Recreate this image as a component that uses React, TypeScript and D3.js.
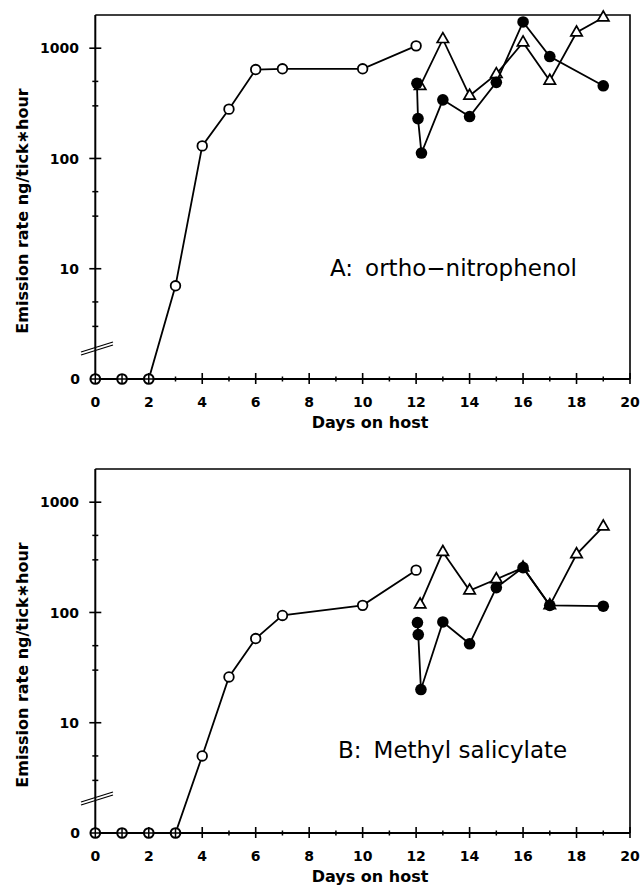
import React from 'react';
import * as d3 from 'd3';

// ---------- data ----------
const panelLabels = ['A:', 'B:'];
const panelNames = ['ortho\u2212nitrophenol', 'Methyl salicylate'];

// Panel A
const daysOpenA = [0, 1, 2, 3, 4, 5, 6, 7, 10, 12];
const valuesOpenA = [0, 0, 0, 7, 130, 280, 640, 650, 650, 1050];
const daysFilledA = [12.03, 12.07, 12.2, 13, 14, 15, 16, 17, 19];
const valuesFilledA = [480, 230, 112, 340, 240, 490, 1730, 840, 456];
const daysTriA = [12.15, 13, 14, 15, 16, 17, 18, 19];
const valuesTriA = [453, 1206, 370, 581, 1126, 506, 1387, 1897];

// Panel B
const daysOpenB = [0, 1, 2, 3, 4, 5, 6, 7, 10, 12];
const valuesOpenB = [0, 0, 0, 0, 5, 26, 58, 94, 116, 242];
const daysFilledB = [12.05, 12.08, 12.18, 13, 14, 15, 16, 17, 19];
const valuesFilledB = [81, 63, 20, 82, 52, 168, 255, 116, 114];
const daysTriB = [12.15, 13, 14, 15, 16, 17, 18, 19];
const valuesTriB = [118, 353, 158, 200, 255, 116, 337, 601];

const yMajorTicks = [1000, 100, 10];
const yMajorLabels = ['1000', '100', '10'];
const yMinorTicks = [500, 300, 50, 30, 5, 3];
const xMajorTicks = [0, 2, 4, 6, 8, 10, 12, 14, 16, 18, 20];
const xMinorTicks = [1, 3, 5, 7, 9, 11, 13, 15, 17, 19];
const xTitle = 'Days on host';
const yTitle = 'Emission rate ng/tick\u2217hour';

const FONT = '"DejaVu Sans", Verdana, sans-serif';

type PanelProps = {
  top: number;
  bottom: number;
  label: string;
  name: string;
  labelX: number;
  labelY: number;
  openD: number[]; openV: number[];
  filledD: number[]; filledV: number[];
  triD: number[]; triV: number[];
  breakOffset: number;
};

function Panel(p: PanelProps) {
  const x = d3.scaleLinear().domain([0, 20]).range([95.3, 630]);
  const y = d3.scaleLog().domain([1, 2000]).range([p.bottom, p.top]);
  const yv = (v: number) => y(Math.max(v, 1));
  const line = d3.line<[number, number]>().x(d => x(d[0])).y(d => yv(d[1]));
  const zip = (a: number[], b: number[]) => a.map((d, i) => [d, b[i]] as [number, number]);
  const openPts = zip(p.openD, p.openV);
  const filledPts = zip(p.filledD, p.filledV);
  const triPts = zip(p.triD, p.triV);
  const tri = d3.symbol().type(d3.symbolTriangle).size(56)();
  const x0 = x(0), x1 = x(20), yb = y(1), yt = y(2000);
  const by = yb - p.breakOffset;
  return (
    <g>
      {/* frame */}
      <path d={`M${x0},${yt} L${x1},${yt} L${x1},${yb}`} fill="none" stroke="#000" strokeWidth={1.6} />
      <line x1={x0} x2={x0} y1={yt} y2={yb} stroke="#000" strokeWidth={2} />
      <line x1={x0} x2={x1} y1={yb} y2={yb} stroke="#000" strokeWidth={2} />
      {/* y ticks */}
      {yMajorTicks.map((t, i) => (
        <g key={'ym' + t}>
          <line x1={x0 - 6} x2={x0 + 6} y1={y(t)} y2={y(t)} stroke="#000" strokeWidth={1.6} />
          <text x={79} y={y(t)} dy="0.36em" textAnchor="end" fontFamily={FONT} fontWeight="bold" fontSize={14}>{yMajorLabels[i]}</text>
        </g>
      ))}
      <text x={80} y={yb} dy="0.36em" textAnchor="end" fontFamily={FONT} fontWeight="bold" fontSize={14}>0</text>
      {yMinorTicks.map(t => (
        <line key={'yn' + t} x1={x0 - 3} x2={x0 + 3} y1={y(t)} y2={y(t)} stroke="#000" strokeWidth={1.5} />
      ))}
      {/* axis break */}
      <line x1={81} y1={by + 5} x2={113} y2={by - 5} stroke="#000" strokeWidth={1.3} />
      <line x1={81} y1={by + 8} x2={113} y2={by - 2} stroke="#000" strokeWidth={1.3} />
      {/* x ticks */}
      {xMajorTicks.map(t => (
        <g key={'xm' + t}>
          <line x1={x(t)} x2={x(t)} y1={yb - 6} y2={yb + 5} stroke="#000" strokeWidth={1.6} />
          <text x={x(t)} y={yb + 28} textAnchor="middle" fontFamily={FONT} fontWeight="bold" fontSize={14}>{t}</text>
        </g>
      ))}
      {xMinorTicks.map(t => (
        <line key={'xn' + t} x1={x(t)} x2={x(t)} y1={yb - 2.5} y2={yb + 2.5} stroke="#000" strokeWidth={1.5} />
      ))}
      <text x={370} y={yb + 49} textAnchor="middle" fontFamily={FONT} fontWeight="bold" fontSize={16}>{xTitle}</text>
      <text transform={`translate(22,${yt + 196}) rotate(-90)`} textAnchor="middle" dominantBaseline="central" fontFamily={FONT} fontWeight="bold" fontSize={16}>{yTitle}</text>
      {/* panel label */}
      <text x={p.labelX} y={p.labelY} fontFamily={FONT} fontSize={23}>{p.label}<tspan dx={12}>{p.name}</tspan></text>
      {/* open series */}
      <path d={line(openPts) || ''} fill="none" stroke="#000" strokeWidth={1.8} />
      {openPts.map((d, i) => d[1] <= 0 ? (
        <g key={'o' + i}>
          <circle cx={x(d[0])} cy={yv(d[1])} r={4.8} fill="#fff" stroke="#000" strokeWidth={2.1} />
          <line x1={x(d[0]) - 4.8} x2={x(d[0]) + 4.8} y1={yv(d[1])} y2={yv(d[1])} stroke="#000" strokeWidth={1.5} />
          <line x1={x(d[0])} x2={x(d[0])} y1={yv(d[1]) - 4.8} y2={yv(d[1]) + 4.8} stroke="#000" strokeWidth={1.5} />
        </g>
      ) : (
        <circle key={'o' + i} cx={x(d[0])} cy={yv(d[1])} r={4.8} fill="#fff" stroke="#000" strokeWidth={1.8} />
      ))}
      {/* triangle series */}
      <path d={line(triPts) || ''} fill="none" stroke="#000" strokeWidth={1.8} />
      {triPts.map((d, i) => (
        <path key={'t' + i} d={tri || ''} transform={`translate(${x(d[0])},${yv(d[1])})`} fill="#fff" stroke="#000" strokeWidth={1.7} />
      ))}
      {/* filled series */}
      <path d={line(filledPts) || ''} fill="none" stroke="#000" strokeWidth={1.8} />
      {filledPts.map((d, i) => (
        <circle key={'f' + i} cx={x(d[0])} cy={yv(d[1])} r={5.8} fill="#000" />
      ))}
    </g>
  );
}

export default function App() {
  return (
    <svg width={644} height={888} style={{ position: 'absolute', left: 0, top: 0, background: '#fff' }}>
      <rect width={644} height={888} fill="#fff" />
      <Panel top={15} bottom={379} label={panelLabels[0]} name={panelNames[0]} labelX={330} labelY={276}
        openD={daysOpenA} openV={valuesOpenA} filledD={daysFilledA} filledV={valuesFilledA}
        triD={daysTriA} triV={valuesTriA} breakOffset={32} />
      <Panel top={469} bottom={833} label={panelLabels[1]} name={panelNames[1]} labelX={338} labelY={758}
        openD={daysOpenB} openV={valuesOpenB} filledD={daysFilledB} filledV={valuesFilledB}
        triD={daysTriB} triV={valuesTriB} breakOffset={36} />
    </svg>
  );
}
